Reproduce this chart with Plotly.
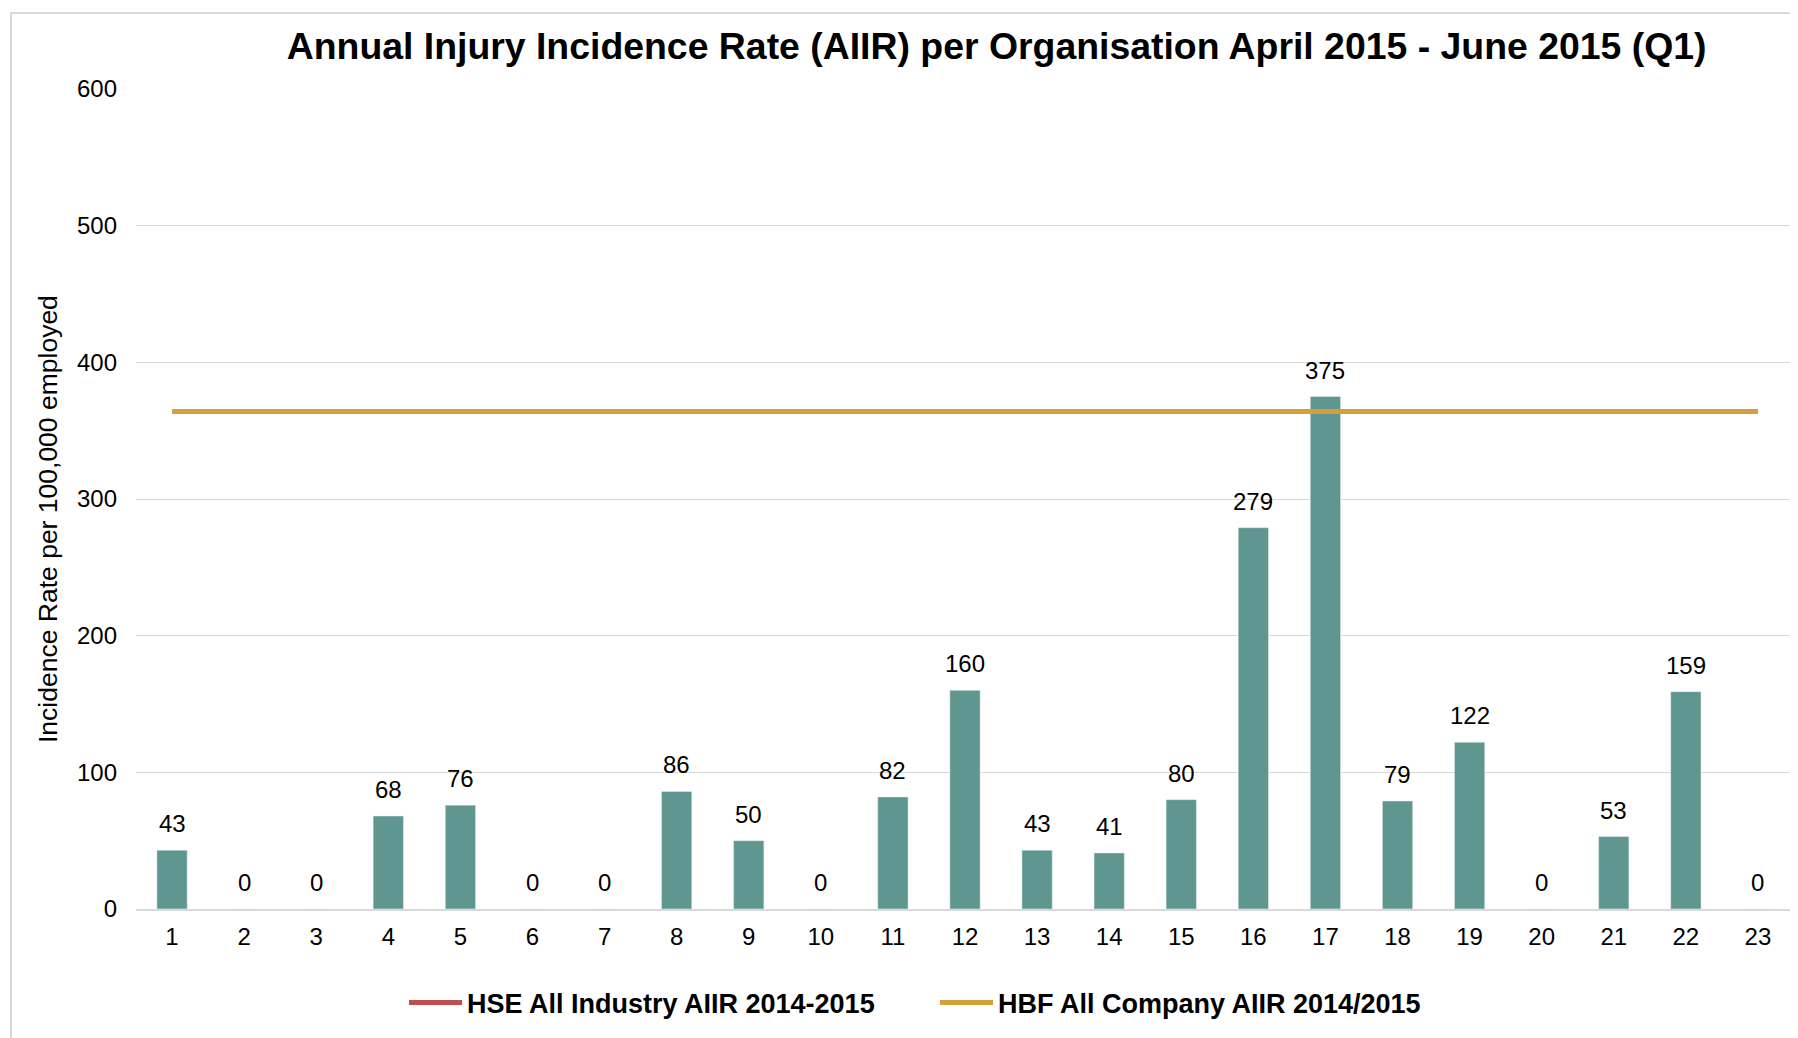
import plotly.graph_objects as go

categories = [str(i) for i in range(1, 24)]
aiir_values = [43, 0, 0, 68, 76, 0, 0, 86, 50, 0, 82, 160, 43, 41, 80, 279, 375, 79, 122, 0, 53, 159, 0]
hbf_value = 364
hbf_line = [hbf_value] * len(categories)
hse_line = [None] * len(categories)
y_ticks = [0, 100, 200, 300, 400, 500, 600]
y_title = "Incidence Rate per 100,000 employed"

FONT = "Liberation Sans, Arial, sans-serif"
W, H = 1790, 1030
ML, MR, MT, MB = 128, 4, 81, 129
PW, PH = W - ML - MR, H - MT - MB

fig = go.Figure()
fig.add_trace(go.Bar(
    x=categories, y=aiir_values, name="AIIR",
    marker=dict(color="#5F9690"),
    showlegend=False, hoverinfo="x+y",
))
fig.add_trace(go.Scatter(
    x=categories, y=hse_line, mode="lines", name="HSE All Industry AIIR 2014-2015",
    line=dict(color="#C0504D", width=5),
))
fig.add_trace(go.Scatter(
    x=categories, y=hbf_line, mode="lines", name="HBF All Company AIIR 2014/2015",
    line=dict(color="#D4A03A", width=5),
))

annotations = [
    dict(x=i, y=v, xref="x", yref="y", text=str(v), showarrow=False,
         yanchor="bottom", yshift=11, font=dict(size=24, color="#000000", family=FONT))
    for i, v in enumerate(aiir_values)
]
annotations.append(dict(
    x=(40 - ML) / PW, y=1 - (511 - MT) / PH, xref="paper", yref="paper",
    text=y_title, textangle=-90, showarrow=False, xanchor="center", yanchor="middle",
    font=dict(size=26.5, color="#000000", family=FONT),
))

fig.update_layout(
    width=W, height=H,
    margin=dict(l=ML, r=MR, t=MT, b=MB),
    paper_bgcolor="white", plot_bgcolor="white",
    bargap=0.58,
    title=dict(
        text="<b>Annual Injury Incidence Rate (AIIR) per Organisation April 2015 - June 2015 (Q1)</b>",
        x=0.5523, xanchor="center", y=1 - 38 / H, yanchor="middle",
        font=dict(size=37.4, color="#000000", family=FONT),
    ),
    font=dict(family=FONT, color="#000000"),
    legend=dict(
        orientation="h", x=(401 - 5 - ML) / PW, xanchor="left", y=-(1003 - 909) / PH, yanchor="middle",
        font=dict(size=27, color="#000000", family=FONT, weight="bold"),
        traceorder="normal", itemclick=False, itemwidth=53, entrywidth=463,
    ),
    annotations=annotations,
    shapes=[dict(
        type="rect", xref="paper", yref="paper",
        x0=(3 - ML) / PW, x1=1.05, y0=-0.5, y1=1 + (MT - 5) / PH,
        line=dict(color="#D9D9D9", width=2), fillcolor="rgba(0,0,0,0)", layer="below",
    )],
)
fig.update_xaxes(
    type="category", range=[-0.5, len(categories) - 0.5],
    showgrid=False, showline=True, linecolor="#D9D9D9", linewidth=2,
    ticks="", tickfont=dict(size=24, color="#000000", family=FONT), ticklabelstandoff=5,
)
fig.update_yaxes(
    range=[0, 600], tickvals=y_ticks, showgrid=True, gridcolor="#D9D9D9", gridwidth=1,
    zeroline=False, showline=False, ticks="",
    tickfont=dict(size=24, color="#000000", family=FONT), ticklabelstandoff=18,
)

fig.write_html("out.html")
